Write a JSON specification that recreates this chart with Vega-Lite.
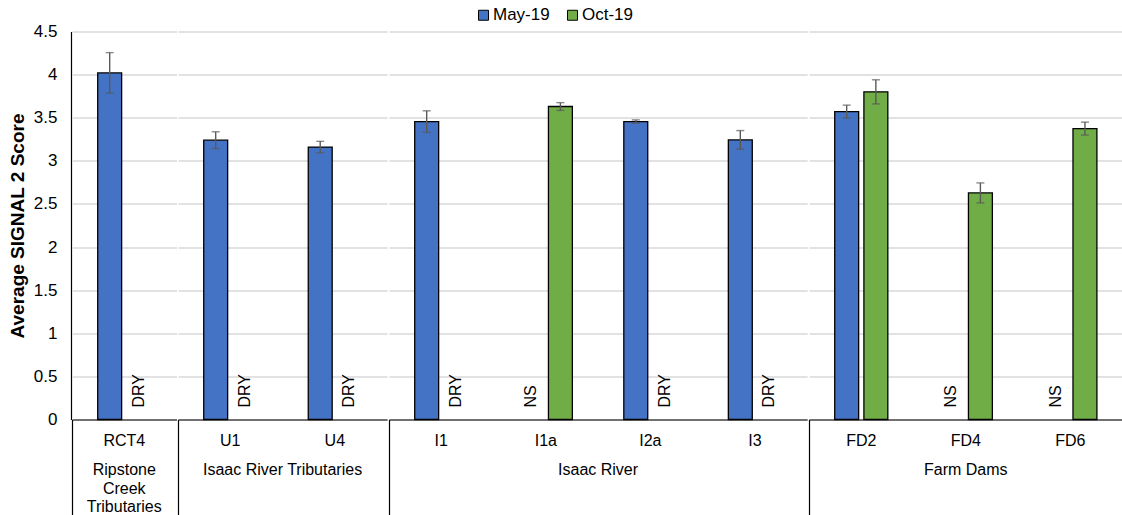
{
  "$schema": "https://vega.github.io/schema/vega-lite/v6.json",
  "padding": {"left": 8, "top": 6.5, "right": 0, "bottom": 0},
  "data": {
    "values": [
      {"group": "Ripstone Creek Tributaries", "site": "RCT4", "period": "May-19", "value": 4.02, "se": 0.235, "note": null},
      {"group": "Ripstone Creek Tributaries", "site": "RCT4", "period": "Oct-19", "value": null, "se": null, "note": "DRY"},
      {"group": "Isaac River Tributaries", "site": "U1", "period": "May-19", "value": 3.24, "se": 0.097, "note": null},
      {"group": "Isaac River Tributaries", "site": "U1", "period": "Oct-19", "value": null, "se": null, "note": "DRY"},
      {"group": "Isaac River Tributaries", "site": "U4", "period": "May-19", "value": 3.16, "se": 0.066, "note": null},
      {"group": "Isaac River Tributaries", "site": "U4", "period": "Oct-19", "value": null, "se": null, "note": "DRY"},
      {"group": "Isaac River", "site": "I1", "period": "May-19", "value": 3.455, "se": 0.125, "note": null},
      {"group": "Isaac River", "site": "I1", "period": "Oct-19", "value": null, "se": null, "note": "DRY"},
      {"group": "Isaac River", "site": "I1a", "period": "May-19", "value": null, "se": null, "note": "NS"},
      {"group": "Isaac River", "site": "I1a", "period": "Oct-19", "value": 3.63, "se": 0.045, "note": null},
      {"group": "Isaac River", "site": "I2a", "period": "May-19", "value": 3.455, "se": 0.02, "note": null},
      {"group": "Isaac River", "site": "I2a", "period": "Oct-19", "value": null, "se": null, "note": "DRY"},
      {"group": "Isaac River", "site": "I3", "period": "May-19", "value": 3.243, "se": 0.108, "note": null},
      {"group": "Isaac River", "site": "I3", "period": "Oct-19", "value": null, "se": null, "note": "DRY"},
      {"group": "Farm Dams", "site": "FD2", "period": "May-19", "value": 3.571, "se": 0.075, "note": null},
      {"group": "Farm Dams", "site": "FD2", "period": "Oct-19", "value": 3.80, "se": 0.14, "note": null},
      {"group": "Farm Dams", "site": "FD4", "period": "May-19", "value": null, "se": null, "note": "NS"},
      {"group": "Farm Dams", "site": "FD4", "period": "Oct-19", "value": 2.628, "se": 0.116, "note": null},
      {"group": "Farm Dams", "site": "FD6", "period": "May-19", "value": null, "se": null, "note": "NS"},
      {"group": "Farm Dams", "site": "FD6", "period": "Oct-19", "value": 3.374, "se": 0.075, "note": null}
    ]
  },
  "facet": {
    "column": {
      "field": "group",
      "type": "nominal",
      "sort": ["Ripstone Creek Tributaries", "Isaac River Tributaries", "Isaac River", "Farm Dams"],
      "title": null,
      "header": {
        "labelOrient": "bottom",
        "labelBaseline": "top",
        "labelFontSize": 16,
        "labelColor": "#000000",
        "labelPadding": -53.5,
        "labelLineHeight": 18.5,
        "labelExpr": "datum.value == 'Ripstone Creek Tributaries' ? split(datum.value, ' ') : datum.value"
      }
    }
  },
  "spacing": 0,
  "resolve": {"scale": {"x": "independent"}},
  "spec": {
    "width": {"step": 29.18},
    "height": 388,
    "encoding": {
      "x": {
        "field": "site",
        "type": "nominal",
        "sort": null,
        "scale": {"paddingInner": 0.492, "paddingOuter": 0.246},
        "axis": {
          "title": null,
          "labelAngle": 0,
          "labelFontSize": 16,
          "labelColor": "#000000",
          "domainColor": "#000000",
          "domainWidth": 1.2,
          "tickSize": 95,
          "tickWidth": 1.2,
          "bandPosition": -0.484,
          "tickColor": {"condition": {"test": "datum.index == 0", "value": "#000000"}, "value": "transparent"},
          "labelPadding": -82
        }
      },
      "xOffset": {"field": "period", "type": "nominal", "scale": {"paddingInner": 0.18}}
    },
    "layer": [
      {
        "mark": {"type": "bar", "stroke": "#000000", "strokeWidth": 1.3},
        "encoding": {
          "y": {
            "field": "value",
            "type": "quantitative",
            "title": "Average SIGNAL 2 Score",
            "scale": {"domain": [0, 4.5], "nice": false},
            "axis": {
              "title": "Average SIGNAL 2 Score",
              "values": [0, 0.5, 1, 1.5, 2, 2.5, 3, 3.5, 4, 4.5],
              "format": "~g",
              "grid": true,
              "gridColor": "#d9d9d9",
              "gridWidth": 1.3,
              "ticks": false,
              "domainColor": "#000000",
              "domainWidth": 1.2,
              "labelFontSize": 17,
              "labelColor": "#000000",
              "labelPadding": 14,
              "titleFontSize": 19,
              "titleFontWeight": "bold",
              "titleColor": "#000000",
              "titlePadding": 6
            }
          },
          "color": {
            "field": "period",
            "type": "nominal",
            "scale": {"domain": ["May-19", "Oct-19"], "range": ["#4472C4", "#70AD47"]},
            "legend": {
              "title": null,
              "orient": "none",
              "legendX": 403,
              "legendY": -25,
              "direction": "horizontal",
              "symbolType": "square",
              "symbolSize": 100,
              "symbolStrokeColor": "#000000",
              "symbolStrokeWidth": 1,
              "labelFontSize": 17,
              "labelColor": "#000000",
              "labelOffset": 1,
              "columnPadding": 14
            }
          }
        }
      },
      {
        "transform": [{"filter": "isValid(datum.value)"}],
        "mark": {"type": "errorbar", "color": "#595959", "thickness": 1.4, "ticks": {"size": 8, "thickness": 1.4, "color": "#595959"}},
        "encoding": {
          "y": {"field": "value", "type": "quantitative", "title": "Average SIGNAL 2 Score"},
          "yError": {"field": "se"}
        }
      },
      {
        "transform": [{"filter": "datum.note != null"}],
        "mark": {"type": "text", "angle": 270, "align": "left", "baseline": "middle", "dx": 12, "fontSize": 16, "color": "#000000"},
        "encoding": {
          "y": {"datum": 0},
          "text": {"field": "note"}
        }
      }
    ]
  },
  "config": {
    "font": "Liberation Sans",
    "view": {"stroke": null}
  }
}
